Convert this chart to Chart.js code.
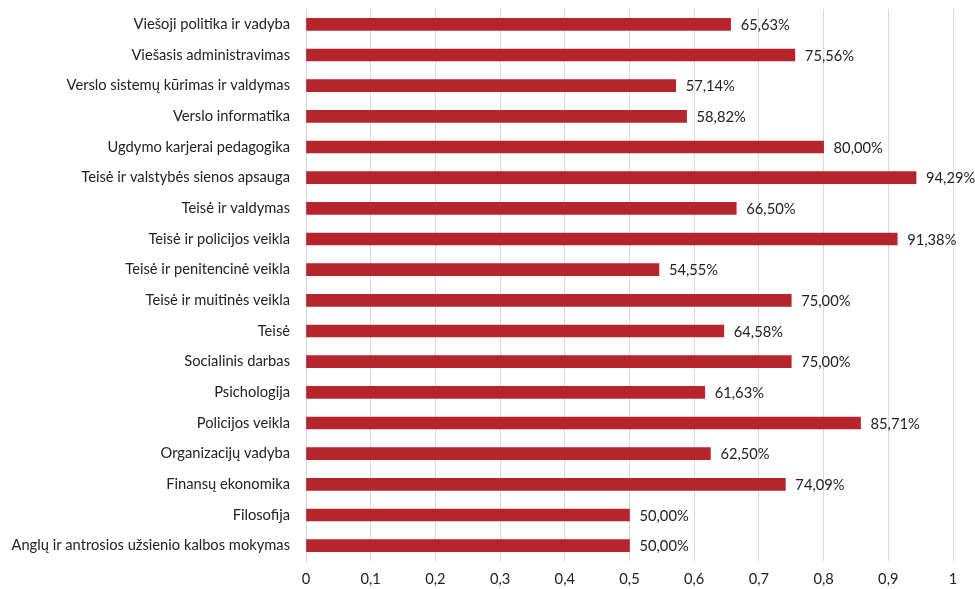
<!DOCTYPE html>
<html>
<head>
<meta charset="utf-8">
<script src="https://cdn.jsdelivr.net/npm/chart.js@4.4.0/dist/chart.umd.min.js"></script>
<style>
  html, body { margin: 0; padding: 0; background: #fff; }
  #wrap { width: 975px; height: 589px; position: relative; }
</style>
</head>
<body>
<div id="wrap"><canvas id="programChart"></canvas></div>
<script>
"use strict";

// study programmes, top to bottom
var programmes = [
    "Viešoji politika ir vadyba",
    "Viešasis administravimas",
    "Verslo sistemų kūrimas ir valdymas",
    "Verslo informatika",
    "Ugdymo karjerai pedagogika",
    "Teisė ir valstybės sienos apsauga",
    "Teisė ir valdymas",
    "Teisė ir policijos veikla",
    "Teisė ir penitencinė veikla",
    "Teisė ir muitinės veikla",
    "Teisė",
    "Socialinis darbas",
    "Psichologija",
    "Policijos veikla",
    "Organizacijų vadyba",
    "Finansų ekonomika",
    "Filosofija",
    "Anglų ir antrosios užsienio kalbos mokymas"
];

// share, in percent
var percentValues = [65.63, 75.56, 57.14, 58.82, 80.00, 94.29, 66.50, 91.38, 54.55, 75.00, 64.58, 75.00, 61.63, 85.71, 62.50, 74.09, 50.00, 50.00];

var xTicks = [0, 0.1, 0.2, 0.3, 0.4, 0.5, 0.6, 0.7, 0.8, 0.9, 1];

var barColor = "#b5252b";
var fontFamily = "Lato, 'Open Sans', sans-serif";
var fontSize = 14.7;

function commaNum(v, digits) {
    return v.toFixed(digits).replace(".", ",");
}

// value labels to the right of each bar
var barLabels = {
    id: "barLabels",
    afterDatasetsDraw: function(chart) {
        var ctx = chart.ctx;
        var meta = chart.getDatasetMeta(0);
        ctx.save();
        ctx.font = fontSize + "px " + fontFamily;
        ctx.fillStyle = "#222";
        ctx.textAlign = "left";
        ctx.textBaseline = "middle";
        meta.data.forEach(function(bar, i) {
            ctx.fillText(commaNum(percentValues[i], 2) + "%", bar.x + 10, bar.y + 1);
        });
        ctx.restore();
    }
};

var ctx = document.getElementById("programChart").getContext("2d");
var chart = new Chart(ctx, {
    type: "bar",
    data: {
        labels: programmes,
        datasets: [{
            label: "Dalis",
            data: percentValues.map(function(v) { return v / 100; }),
            backgroundColor: barColor,
            borderWidth: 0,
            barThickness: 12
        }]
    },
    options: {
        indexAxis: "y",
        responsive: true,
        maintainAspectRatio: false,
        animation: false,
        layout: {
            padding: { top: 9, right: 22, bottom: 0, left: 0 }
        },
        plugins: {
            legend: { display: false },
            tooltip: { enabled: false }
        },
        scales: {
            x: {
                min: 0,
                max: 1,
                afterBuildTicks: function(scale) {
                    scale.ticks = xTicks.map(function(v) { return { value: v }; });
                },
                afterFit: function(scale) {
                    scale.height = 28;
                    scale.paddingLeft = 0;
                    scale.paddingRight = 0;
                },
                grid: {
                    color: "#d9d9d9",
                    lineWidth: 1,
                    drawTicks: false
                },
                border: { display: false },
                ticks: {
                    padding: 9,
                    color: "#222",
                    font: { family: fontFamily, size: fontSize }
                    ,
                    callback: function(v) {
                        return v === 0 || v === 1 ? String(v) : commaNum(v, 1);
                    }
                }
            },
            y: {
                afterFit: function(scale) {
                    scale.width = 306;
                    scale.paddingTop = 0;
                    scale.paddingBottom = 0;
                },
                grid: { display: false, drawTicks: false },
                border: { display: true, color: "#d9d9d9" },
                ticks: {
                    padding: 16,
                    color: "#222",
                    autoSkip: false,
                    font: { family: fontFamily, size: fontSize }
                }
            }
        }
    },
    plugins: [barLabels]
});
</script>
</body>
</html>
